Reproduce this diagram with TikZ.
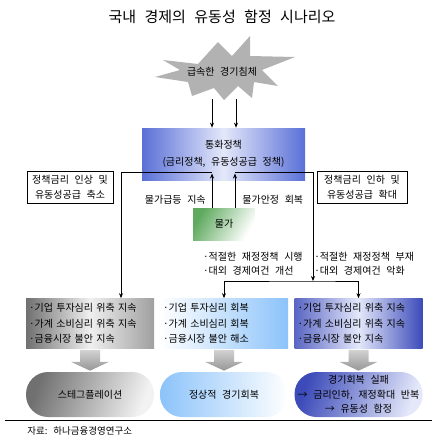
\documentclass[tikz,border=0pt]{standalone}
\usepackage{fontspec}
\setmainfont[WordSpace=2.5]{Noto Sans CJK KR}
\usetikzlibrary{arrows.meta}

\definecolor{burstgray}{RGB}{178,178,178}
\definecolor{polblue}{RGB}{90,112,215}
\definecolor{pollight}{RGB}{228,232,250}
\definecolor{pricegreen}{RGB}{95,170,95}
\definecolor{darkgray}{RGB}{112,112,112}
\definecolor{skyblue}{RGB}{140,195,250}
\definecolor{deepblue}{RGB}{60,75,185}
\definecolor{arrowgray}{RGB}{150,150,150}

\tikzset{
  lbl/.style={font=\fontsize{10}{14.5}\selectfont, inner sep=0pt},
  tag/.style={lbl, draw, line width=0.8pt, minimum height=32pt, align=center},
  panel/.style={font=\fontsize{10}{15.5}\selectfont, inner ysep=0pt, inner xsep=3pt,
    text width=122pt, minimum height=50pt, align=left},
  pill/.style={font=\fontsize{10}{14.5}\selectfont, inner sep=0pt, minimum width=128pt,
    minimum height=45pt, rounded corners=22pt, align=center}
}

\begin{document}
\begin{tikzpicture}[x=1pt,y=-1pt,>={Stealth[length=5pt,width=4pt]},line width=0.7pt]
    \useasboundingbox (0,0) rectangle (444,440);

    \node[font=\fontsize{15}{16}\selectfont] (title) at (222,17) {국내 경제의 유동성 함정 시나리오};

    % shock
    \fill[burstgray] (163,60) -- (198,64) -- (218,42) -- (232,56) -- (250,36) -- (250,56)
      -- (295,57) -- (262,70) -- (278,86) -- (254,82) -- (252,98) -- (238,86) -- (224,100)
      -- (214,88) -- (192,96) -- (188,82) -- (155,77) -- (180,70) -- cycle;
    \node[lbl] (crisis) at (222,72) {급속한 경기침체};
    \coordinate (b1) at (212,99);
    \coordinate (b2) at (236,99);

    \node[lbl, font=\fontsize{10}{17}\selectfont, align=center, minimum width=163pt, minimum height=52pt,
      left color=polblue, right color=polblue, middle color=pollight] (policy) at (223.5,154)
      {통화정책\\(금리정책, 유동성공급 정책)};
    \draw[->] (b1) -- (b1 |- policy.north);
    \draw[->] (b2) -- (b2 |- policy.north);

    \node[tag, minimum width=86pt] (up) at (70,187) {정책금리 인상 및\\유동성공급 축소};
    \node[tag, minimum width=90pt] (down) at (362,187) {정책금리 인하 및\\유동성공급 확대};

    \node[lbl, minimum width=62pt, minimum height=32pt, left color=pricegreen, right color=white,
      shading angle=60] (price) at (224,224) {물가};
    \coordinate (jL) at (212,172);
    \coordinate (jR) at (235,172);
    \draw[->] (price.north -| jL) -- ([yshift=-1.5pt]jL);
    \draw[->] (price.north -| jR) -- ([yshift=-1.5pt]jR);
    \node[lbl, anchor=east] (rise) at (206,200) {물가급등 지속};
    \node[lbl, anchor=west] (calm) at (242,200) {물가안정 회복};

    \node[lbl, anchor=east, align=left] (good) at (303,264) {·적절한 재정정책 시행\\·대외 경제여건 개선};
    \node[lbl, anchor=west, align=left] (bad) at (314,264) {·적절한 재정정책 부재\\·대외 경제여건 악화};

    % outcomes
    \node[panel, left color=darkgray, right color=gray!75, middle color=gray!12] (stag) at (90,323.5)
      {·기업 투자심리 위축 지속\\·가계 소비심리 위축 지속\\·금융시장 불안 지속};
    \node[panel, left color=white, right color=skyblue] (normal) at (224,323.5)
      {·기업 투자심리 회복\\·가계 소비심리 회복\\·금융시장 불안 해소};
    \node[panel, left color=deepblue!85, right color=deepblue, middle color=pollight] (fail) at (358.5,323.5)
      {·기업 투자심리 위축 지속\\·가계 소비심리 위축 지속\\·금융시장 불안 지속};

    \coordinate (cL) at (121,172);
    \coordinate (cR) at (313,172);
    \coordinate (split) at (313,281);
    \draw[->] (jL) -- (cL) -- (cL |- stag.north);
    \draw[->] (jR) -- (cR) -- (split);
    \draw[<->] (normal.north) |- (split) -| (fail.north);

    \node[pill, left color=darkgray, right color=gray!10, shading angle=70] (stagend) at (90,394.5) {스테그플레이션};
    \node[pill, left color=skyblue, right color=white] (normalend) at (224,394.5) {정상적 경기회복};
    \node[pill, left color=deepblue, right color=pollight, shading angle=70] (failend) at (358.5,394.5)
      {경기회복 실패\\→ 금리인하, 재정확대 반복\\→ 유동성 함정};

    \foreach \a/\b in {stag/stagend, normal/normalend, fail/failend}
      \shade[top color=gray!35, bottom color=arrowgray]
        ([shift={(-10,1)}]\a.south) -- ([shift={(10,1)}]\a.south) -- ([shift={(10,13)}]\a.south)
        -- ([shift={(19,13)}]\a.south) -- ([shift={(0,-1)}]\b.north) -- ([shift={(-19,13)}]\a.south)
        -- ([shift={(-10,13)}]\a.south) -- cycle;

    \draw[line width=0.8pt] (5,420) -- (432,420);
    \node[font=\fontsize{9.5}{10}\selectfont, anchor=west, inner sep=0pt] (src) at (27,431) {자료: 하나금융경영연구소};
\end{tikzpicture}
\end{document}
